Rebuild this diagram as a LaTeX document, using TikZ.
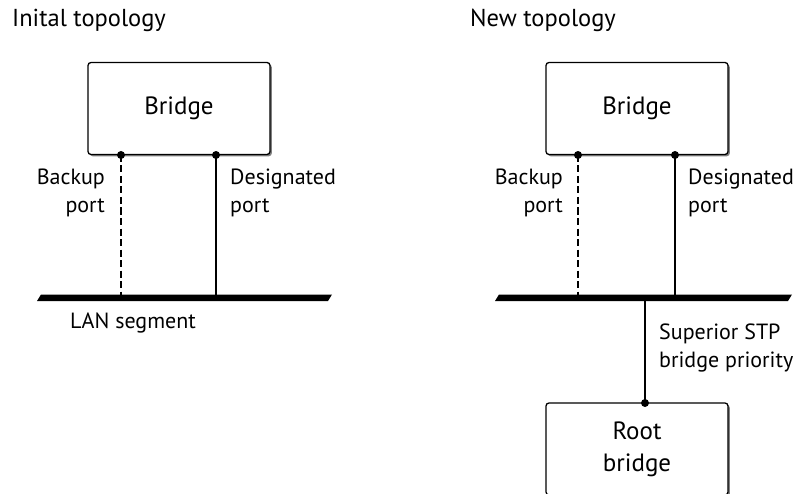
\documentclass[tikz,border=0pt]{standalone}
\usepackage{fontspec}
\setmainfont{PT Sans}
\usetikzlibrary{shadows}
\begin{document}
\begin{tikzpicture}[x=1pt,y=-1pt,
  box/.style={draw, line width=1.3pt, rounded corners=3pt, fill=white,
    minimum width=182pt, minimum height=92pt, inner sep=0pt, align=center,
    font=\fontsize{25}{32}\selectfont,
    drop shadow={shadow xshift=1.8pt, shadow yshift=-1.8pt, fill=black!55, opacity=0.9}},
  lbl/.style={font=\fontsize{22}{27.5}\selectfont, inner sep=0pt},
  ttl/.style={font=\fontsize{24.5}{28}\selectfont, inner sep=0pt, anchor=base west},
  link/.style={line width=2.8pt},
  dlink/.style={line width=2.8pt, dash pattern=on 7pt off 3.5pt},
  dot/.style={circle, fill=black, inner sep=0pt, minimum size=8pt},
  lan/.style={fill=black}]
\useasboundingbox (0,0) rectangle (799,494);
\clip (0,0) rectangle (799,494);
\fill[white] (0,0) rectangle (799,494);

% ---------- left: initial topology ----------
\node[ttl] (t1) at (12,27) {Inital topology};
\node[box] (b1) at (179,108.5) {Bridge};
\fill[lan] (37,301) -- (41,294.5) -- (332,294.5) -- (328,301) -- cycle;
\coordinate (l1a) at (121,296);
\coordinate (l1b) at (216,296);
\node[dot] (p1a) at (121,155) {};
\node[dot] (p1b) at (216,155) {};
\draw[dlink] (p1a.center) -- (l1a);
\draw[link] (p1b.center) -- (l1b);
\node[lbl, anchor=east, align=right] (bk1) at (105,193) {Backup\\port};
\node[lbl, anchor=west, align=left] (dp1) at (230,193) {Designated\\port};
\node[lbl, anchor=base west] (lan1) at (70,328) {LAN segment};

% ---------- right: new topology ----------
\node[ttl] (t2) at (470,27) {New topology};
\node[box] (b2) at (637,108.5) {Bridge};
\fill[lan] (495,301) -- (499,294.5) -- (792,294.5) -- (788,301) -- cycle;
\coordinate (l2a) at (578,296);
\coordinate (l2b) at (675,296);
\coordinate (l2c) at (645,298);
\node[dot] (p2a) at (578,155) {};
\node[dot] (p2b) at (675,155) {};
\draw[dlink] (p2a.center) -- (l2a);
\draw[link] (p2b.center) -- (l2b);
\node[lbl, anchor=east, align=right] (bk2) at (563,193) {Backup\\port};
\node[lbl, anchor=west, align=left] (dp2) at (688,193) {Designated\\port};
\node[box] (rb) at (637,449) {Root\\bridge};
\node[dot] (p2c) at (645,403) {};
\draw[link] (l2c) -- (p2c.center);
\node[lbl, anchor=west, align=left] (sp) at (659,348) {Superior STP\\bridge priority};
\end{tikzpicture}
\end{document}
